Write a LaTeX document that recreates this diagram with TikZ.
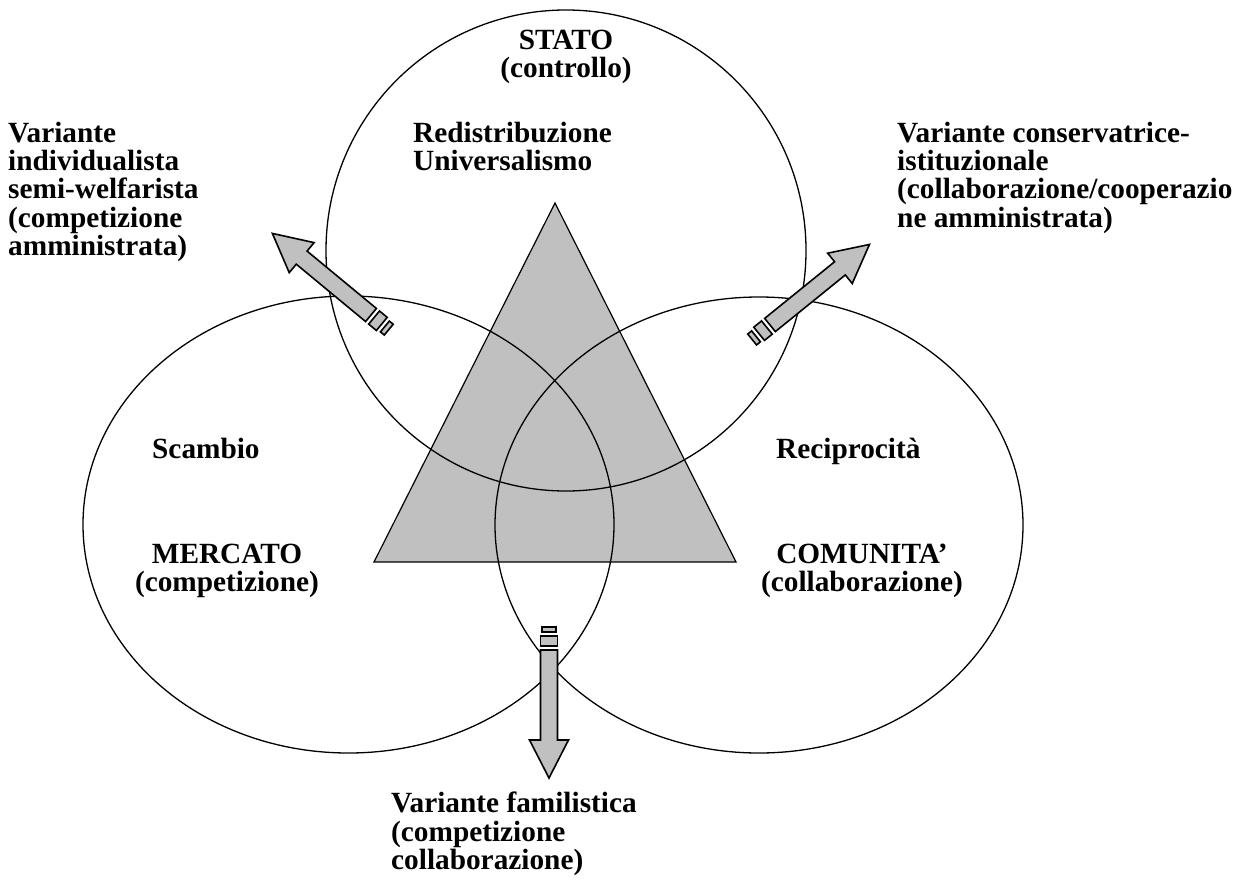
\documentclass[tikz,border=0pt]{standalone}
\usepackage{fontspec}
\setmainfont{Liberation Serif}
\usetikzlibrary{shapes.geometric}
\definecolor{fillgray}{HTML}{C0C0C0}
\newcommand\fatarrowshape{%
  \draw[arrowbody] (0,-8.5) -- (90,-8.5) -- (90,-19.5) -- (128,0) -- (90,19.5) -- (90,8.5) -- (0,8.5) -- cycle;
  \draw[arrowbody] (-4,-8.5) rectangle (-14,8.5);
  \draw[arrowbody] (-18,-7) rectangle (-23,7);
}
\begin{document}
\begin{tikzpicture}[x=1pt,y=-1pt,
  circ/.style={ellipse, draw=black, line width=1.3pt, inner sep=0pt},
  arrowbody/.style={draw=black, fill=fillgray, line width=1.6pt, line join=miter},
  lbl/.style={font=\fontsize{29.3}{28.2}\selectfont\bfseries, inner sep=0pt, align=left, anchor=north west},
  lblc/.style={font=\fontsize{29.3}{28.2}\selectfont\bfseries, inner sep=0pt, align=center, anchor=north}]
\useasboundingbox (0,0) rectangle (1236,886);
% triangle
\coordinate (apex) at (555,203);
\coordinate (bl) at (374,562);
\coordinate (br) at (736,562);
\draw[fill=fillgray, line width=1.2pt, line join=miter] (apex) -- (bl) -- (br) -- cycle;
% circles
\node[circ, minimum width=480pt, minimum height=481pt] (stato) at (566,250.5) {};
\node[circ, minimum width=531pt, minimum height=457pt] (mercato) at (348.5,524.5) {};
\node[circ, minimum width=528pt, minimum height=456pt] (comunita) at (759,525) {};
% arrows
\coordinate (tailUL) at (371,315);
\coordinate (tailUR) at (770,325);
\coordinate (tailD) at (549,650);
\begin{scope}[shift={(tailUL)}, rotate=140.4]\fatarrowshape\end{scope}
\begin{scope}[shift={(tailUR)}, rotate=39]\fatarrowshape\end{scope}
\begin{scope}[shift={(tailD)}, rotate=-90]\fatarrowshape\end{scope}
% texts
\node[lblc] (tstato) at (566,30) {STATO\\(controllo)};
\node[lbl] (tredis) at (413,122) {Redistribuzione\\Universalismo};
\node[lbl] (tleft) at (8,122) {Variante\\individualista\\semi-welfarista\\(competizione\\amministrata)};
\node[lbl] (tright) at (897,122) {Variante conservatrice-\\istituzionale\\(collaborazione/cooperazio\\ne amministrata)};
\node[lbl] (tscambio) at (152,438) {Scambio};
\node[lblc] (tmercato) at (227,544) {MERCATO\\(competizione)};
\node[lbl] (trecip) at (776,438) {Reciprocità};
\node[lblc] (tcomun) at (862,544) {COMUNITA’\\(collaborazione)};
\node[lbl] (tbottom) at (391,792) {Variante familistica\\(competizione\\collaborazione)};
\end{tikzpicture}
\end{document}
